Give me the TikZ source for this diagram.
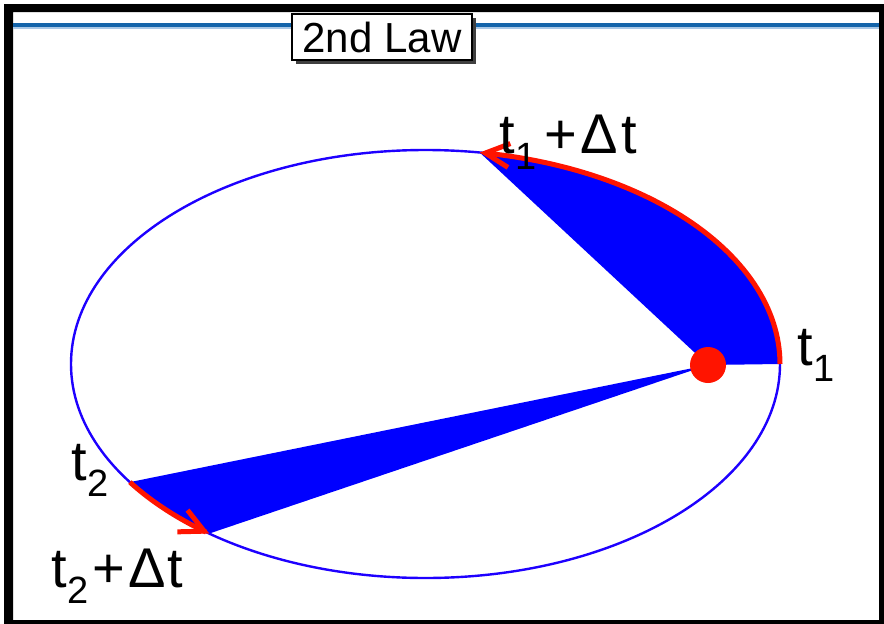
\documentclass[tikz,border=0pt]{standalone}
\usepackage{fontspec}
\setmainfont{Liberation Sans}
\usetikzlibrary{arrows.meta,shadows}
\definecolor{orbit}{RGB}{30,0,255}
\definecolor{sweep}{RGB}{0,0,255}
\definecolor{hot}{RGB}{255,20,0}
\definecolor{rulecol}{RGB}{20,100,170}
\definecolor{rulelight}{RGB}{170,200,230}
\newcommand{\tsub}[1]{t\kern1pt\raisebox{-16pt}{\fontsize{38}{38}\selectfont #1}}
\begin{document}
\begin{tikzpicture}[x=1pt,y=-1pt,
  lbl/.style={inner sep=0pt, anchor=base west, font=\fontsize{56}{56}\selectfont},
  titlebox/.style={draw=black, line width=1.2pt, fill=white, inner sep=0pt,
    minimum width=180pt, minimum height=46pt, font=\fontsize{42}{42}\selectfont,
    drop shadow={shadow xshift=4pt, shadow yshift=-4pt, fill=black!75, opacity=1}},
  sweeparc/.style={hot, line width=5pt, -{Straight Barb[length=24pt,width=24pt]}},
  orbitline/.style={orbit, line width=2.4pt}]
\useasboundingbox (0,0) rectangle (884,624);
\fill[white] (0,0) rectangle (884,624);
\fill[black, even odd rule] (4,4) rectangle (884,624) (13,12) rectangle (879,620);
\draw[rulelight, line width=2pt] (13,27.5) -- (879,27.5);
\draw[rulecol, line width=4.5pt] (13,25) -- (879,25);
\node[titlebox] (title) at (382,37) {2nd Law};
% orbit
\coordinate (centre) at (425.5,364);
\coordinate (focus) at (708,365);
\fill[sweep] (focus) -- plot[domain=0:81.2, samples=60] ({425.5+354.5*cos(\x)},{364-214*sin(\x)}) -- cycle;
\fill[sweep] (focus) -- plot[domain=213.5:232.4, samples=30] ({425.5+354.5*cos(\x)},{364-214*sin(\x)}) -- cycle;
\draw[orbitline] (centre) ellipse [x radius=354.5, y radius=214];
\draw[sweeparc] plot[domain=0:81.2, samples=60] ({425.5+354.5*cos(\x)},{364-214*sin(\x)});
\draw[sweeparc] plot[domain=213.5:232.4, samples=30] ({425.5+354.5*cos(\x)},{364-214*sin(\x)});
\node[circle, fill=hot, minimum size=36pt, inner sep=0pt] (sun) at (focus) {};
% labels
\node[lbl] (lt1d) at (499,153) {\tsub{1}\kern8pt+\kern3ptΔ\kern3pt t};
\node[lbl] (lt1) at (797,365) {\tsub{1}};
\node[lbl] (lt2) at (71,480) {\tsub{2}};
\node[lbl] (lt2d) at (51,587) {\tsub{2}\kern4pt+\kern3ptΔ\kern2pt t};
\end{tikzpicture}
\end{document}
